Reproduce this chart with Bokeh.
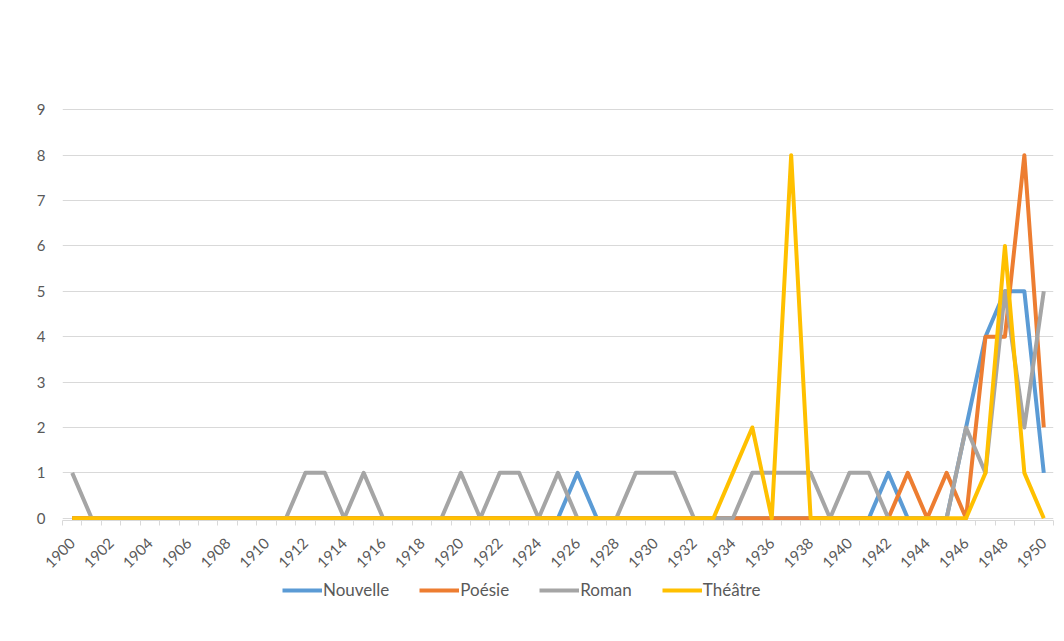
from bokeh.plotting import figure
from bokeh.models import Range1d, FixedTicker, Legend, LegendItem
from bokeh.layouts import column
from bokeh.embed import file_html
from bokeh.resources import INLINE
import math

# ---- data ----
years = list(range(1900, 1951))
year_labels = [str(y) for y in range(1900, 1951, 2)]

nouvelle = [0, 0, 0, 0, 0, 0, 0, 0, 0, 0,
            0, 0, 0, 0, 0, 0, 0, 0, 0, 0,
            0, 0, 0, 0, 0, 0, 1, 0, 0, 0,
            0, 0, 0, 0, 0, 0, 0, 0, 0, 0,
            0, 0, 1, 0, 0, 0, 2, 4, 5, 5,
            1]
poesie = [0, 0, 0, 0, 0, 0, 0, 0, 0, 0,
          0, 0, 0, 0, 0, 0, 0, 0, 0, 0,
          0, 0, 0, 0, 0, 0, 0, 0, 0, 0,
          0, 0, 0, 0, 0, 0, 0, 0, 0, 0,
          0, 0, 0, 1, 0, 1, 0, 4, 4, 8,
          2]
roman = [1, 0, 0, 0, 0, 0, 0, 0, 0, 0,
         0, 0, 1, 1, 0, 1, 0, 0, 0, 0,
         1, 0, 1, 1, 0, 1, 0, 0, 0, 1,
         1, 1, 0, 0, 0, 1, 1, 1, 1, 0,
         1, 1, 0, 0, 0, 0, 2, 1, 5, 2,
         5]
theatre = [0, 0, 0, 0, 0, 0, 0, 0, 0, 0,
           0, 0, 0, 0, 0, 0, 0, 0, 0, 0,
           0, 0, 0, 0, 0, 0, 0, 0, 0, 0,
           0, 0, 0, 0, 1, 2, 0, 8, 0, 0,
           0, 0, 0, 0, 0, 0, 0, 1, 6, 1,
           0]

series_names = ["Nouvelle", "Poésie", "Roman", "Théâtre"]
series_values = [nouvelle, poesie, roman, theatre]
series_colors = ["#5B9BD5", "#ED7D31", "#A5A5A5", "#FFC000"]

FONT = "Lato"
TXT = "#595959"
GRID = "#d9d9d9"
LW = 4

# ---- main chart ----
p = figure(width=1056, height=578, output_backend="svg", toolbar_location=None,
           x_range=Range1d(1899.5, 1950.5), y_range=Range1d(-0.05, 9.05),
           min_border_left=62, min_border_right=3, min_border_top=107,
           min_border_bottom=58)
p.outline_line_color = None
p.background_fill_color = "white"
p.border_fill_color = "white"

p.yaxis.ticker = FixedTicker(ticks=list(range(0, 10)))
p.yaxis.axis_line_color = None
p.yaxis.major_tick_line_color = None
p.yaxis.minor_tick_line_color = None
p.yaxis.major_tick_out = 0
p.yaxis.major_tick_in = 0
p.yaxis.major_label_standoff = 17
p.yaxis.major_label_text_font = FONT
p.yaxis.major_label_text_font_size = "15px"
p.yaxis.major_label_text_color = TXT
p.ygrid.ticker = FixedTicker(ticks=list(range(0, 10)))
p.ygrid.grid_line_color = GRID
p.xgrid.grid_line_color = None

label_ticks = [int(s) for s in year_labels]
p.xaxis.ticker = FixedTicker(ticks=label_ticks,
                             minor_ticks=[y - 0.5 for y in years] + [years[-1] + 0.5])
p.xaxis.major_label_overrides = {int(s): s for s in year_labels}
p.xaxis.major_tick_line_color = None
p.xaxis.major_tick_out = 0
p.xaxis.major_tick_in = 0
p.xaxis.minor_tick_line_color = GRID
p.xaxis.minor_tick_out = 5
p.xaxis.minor_tick_in = 0
p.xaxis.axis_line_color = GRID
p.xaxis.major_label_orientation = math.pi / 4
p.xaxis.major_label_standoff = 15
p.xaxis.major_label_text_font = FONT
p.xaxis.major_label_text_font_size = "15px"
p.xaxis.major_label_text_color = TXT

for name, vals, col in zip(series_names, series_values, series_colors):
    p.line(years, vals, line_color=col, line_width=LW, line_join="round")

# ---- legend strip (series drawn off-range, only their legend glyphs show) ----
p2 = figure(width=1056, height=55, output_backend="svg", toolbar_location=None,
            x_range=Range1d(0, 1), y_range=Range1d(0, 1), min_border=0,
            x_axis_location=None, y_axis_location=None)
p2.outline_line_color = None
p2.grid.visible = False
items = []
for name, vals, col in zip(series_names, series_values, series_colors):
    r = p2.line(years, vals, line_color=col, line_width=LW)
    items.append(LegendItem(label=name, renderers=[r]))
legend = Legend(items=items, orientation="horizontal", location=(220, 33),
                border_line_color=None, background_fill_alpha=0,
                label_text_font=FONT, label_text_font_size="17px",
                label_text_color=TXT, glyph_width=40, glyph_height=20,
                label_standoff=1, spacing=30, padding=0, margin=0)
p2.add_layout(legend, "center")

layout = column(p, p2, spacing=0)
open("out.html", "w").write(file_html(layout, INLINE))
